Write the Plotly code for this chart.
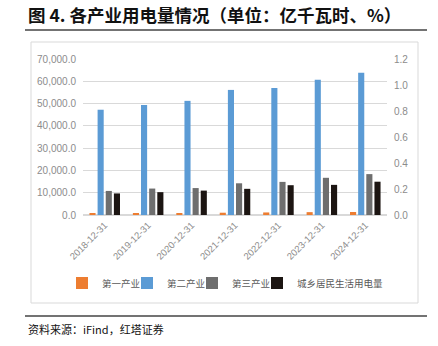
import plotly.graph_objects as go

years = ["2018-12-31", "2019-12-31", "2020-12-31", "2021-12-31", "2022-12-31", "2023-12-31", "2024-12-31"]
primary = [728, 780, 859, 1023, 1146, 1278, 1357]
secondary = [47235, 49362, 51215, 56131, 57001, 60745, 63874]
tertiary = [10801, 11863, 12087, 14231, 14859, 16694, 18348]
residential = [9685, 10250, 10949, 11743, 13366, 13524, 14942]

names = ["第一产业", "第二产业", "第三产业", "城乡居民生活用电量"]
colors = ["#ED7D31", "#5B9BD5", "#6E6E6E", "#1C1512"]
series = [primary, secondary, tertiary, residential]

W, H = 438, 346
L, R, T, B = 83, 387, 59, 215

def px(x):
    return (x - L) / (R - L)

def py(y):
    return (B - y) / (B - T)

FONT = "Liberation Sans, Noto Sans CJK SC, sans-serif"
CJK = "Noto Sans CJK SC, sans-serif"

legend_ids = ["legend", "legend2", "legend3", "legend4"]
legend_x = [62, 127, 192, 257]

fig = go.Figure()
for n, c, s, lid in zip(names, colors, series, legend_ids):
    fig.add_trace(go.Bar(x=years, y=s, name=n, legend=lid,
                         marker=dict(color=c, line=dict(width=0))))
fig.add_trace(go.Scatter(x=[], y=[], yaxis="y2", showlegend=False, hoverinfo="skip"))

legend_style = dict(orientation="h", xanchor="left", y=py(283), yanchor="middle",
                    font=dict(family=CJK, size=9.5, color="#595959"),
                    bgcolor="rgba(0,0,0,0)")

fig.update_layout(
    width=W, height=H,
    margin=dict(l=L, r=W - R, t=T, b=H - B),
    paper_bgcolor="white", plot_bgcolor="white",
    barmode="group", bargap=0.25, bargroupgap=0.25,
    font=dict(family=FONT, color="#8C8C8C", size=10),
    xaxis=dict(type="category", tickangle=-45, tickfont=dict(size=9.5, color="#8C8C8C"), showgrid=False,
               showline=True, linecolor="#D9D9D9", linewidth=1, ticks=""),
    yaxis=dict(range=[0, 70000], dtick=10000, tickformat=",.1f", showgrid=True,
               gridcolor="#D9D9D9", gridwidth=1, zeroline=True, zerolinecolor="#D9D9D9",
               ticks="", tickfont=dict(size=10, color="#8C8C8C"), ticklabelstandoff=6),
    yaxis2=dict(range=[0, 1.2], dtick=0.2, tickformat=".1f", overlaying="y", side="right",
                showgrid=False, zeroline=False, ticks="", tickfont=dict(size=10, color="#8C8C8C"),
                ticklabelstandoff=6),
    showlegend=True,
)
for lid, lx in zip(legend_ids, legend_x):
    fig.update_layout({lid: dict(legend_style, x=px(lx))})

fig.add_annotation(xref="paper", yref="paper", x=px(26), y=py(15), xanchor="left", yanchor="middle",
                   text="<b>图 4. 各产业用电量情况（单位：亿千瓦时、%）</b>", showarrow=False,
                   font=dict(family=CJK, size=17.5, color="#111111"))
fig.add_annotation(xref="paper", yref="paper", x=px(26), y=py(329), xanchor="left", yanchor="middle",
                   text="资料来源：iFind，红塔证券", showarrow=False,
                   font=dict(family=CJK, size=11, color="#111111"))

fig.add_shape(type="line", xref="paper", yref="paper", x0=px(25), x1=px(427), y0=py(30), y1=py(30),
              line=dict(color="#444444", width=1.5))
fig.add_shape(type="line", xref="paper", yref="paper", x0=px(25), x1=px(427), y0=py(316), y1=py(316),
              line=dict(color="#444444", width=1.5))
fig.add_shape(type="rect", xref="paper", yref="paper", x0=px(31), x1=px(418), y0=py(42), y1=py(303),
              line=dict(color="#D9D9D9", width=1), layer="below")

fig.write_html("out.html", config={"displayModeBar": False})
